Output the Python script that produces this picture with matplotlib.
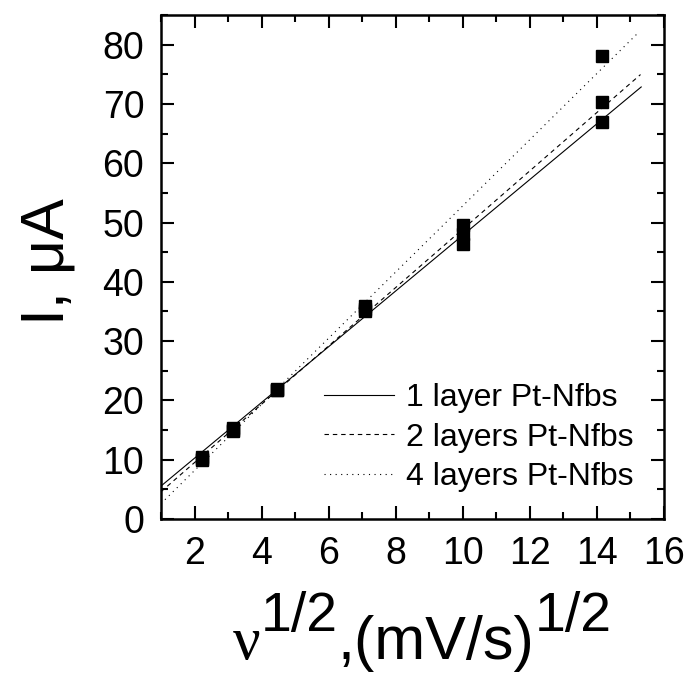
import matplotlib
matplotlib.use("Agg")
import numpy as np
import matplotlib.pyplot as plt
from matplotlib.ticker import MultipleLocator

# square root of scan rate, (mV/s)^1/2
sqrt_rate = [2.236, 3.162, 4.472, 7.071, 10.0, 14.142]

# peak currents, uA
current_1layer = [10.4, 15.0, 21.8, 35.0, 46.3, 67.0]
current_2layers = [10.2, 14.8, 21.7, 35.4, 48.0, 70.4]
current_4layers = [10.0, 15.3, 22.0, 35.9, 49.6, 78.1]

# linear fits I = slope * x + intercept, as drawn in the figure
fit_labels = ['1 layer Pt-Nfbs', '2 layers Pt-Nfbs', '4 layers Pt-Nfbs']
fit_slopes = [4.70, 4.92, 5.58]
fit_intercepts = [0.86, -0.32, -2.98]
fit_x_start = [1.0, 1.0, 1.0]
fit_x_end = [15.32, 15.30, 15.25]

x_ticks = [2, 4, 6, 8, 10, 12, 14, 16]
y_ticks = [0, 10, 20, 30, 40, 50, 60, 70, 80]

plt.rcParams['font.family'] = ['Liberation Sans', 'DejaVu Sans']

W, H = 691, 673
fig = plt.figure(figsize=(W / 100, H / 100), dpi=100)
ax = fig.add_axes([161 / W, 1 - 519 / H, (664 - 161) / W, (519 - 15) / H])

line_styles = [
    dict(linestyle='-'),
    dict(linestyle=(0, (4, 3.5))),
    dict(linestyle=(0, (1, 4))),
]
for label, a, b, x0, x1, st in zip(fit_labels, fit_slopes, fit_intercepts,
                                    fit_x_start, fit_x_end, line_styles):
    xs = np.array([x0, x1])
    ax.plot(xs, a * xs + b, color='black', lw=0.8, label=label, **st)

for ys in (current_1layer, current_2layers, current_4layers):
    ax.plot(sqrt_rate, ys, 's', color='black', ms=9, zorder=3)

ax.set_xlim(1, 16)
ax.set_ylim(0, 85)
ax.set_xticks(x_ticks)
ax.set_yticks(y_ticks)
ax.xaxis.set_minor_locator(MultipleLocator(1))
ax.yaxis.set_minor_locator(MultipleLocator(5))
ax.tick_params(which='both', direction='in', top=True, right=True, width=1.5,
               labelsize=27, pad=12)
ax.tick_params(which='major', length=9.5)
ax.tick_params(which='minor', length=4.7)
for s in ax.spines.values():
    s.set_linewidth(1.8)

ax.legend(loc='upper left', bbox_to_anchor=(0.324, 0.27), frameon=False,
          fontsize=23, handlelength=2.2, handletextpad=0.37, labelspacing=0.3,
          borderpad=0, borderaxespad=0)

# y label
fig.text(48 / W, 1 - 262 / H, 'I, μA', rotation=90, ha='center', va='center',
         fontsize=44)

# x label, built from pieces so the superscripts keep a large size
base = fig.text(233 / W, 1 / H, 'ν', fontsize=44, va='bottom', ha='left',
                family=['Liberation Serif'])
prev = base
for text, size, dy in [('1/2', 40, 21), (',(mV/s)', 44, 0), ('1/2', 40, 21)]:
    prev = ax.annotate(text, xy=(1, 0), xycoords=(prev, base), xytext=(0, dy),
                       textcoords='offset points', fontsize=size, va='bottom',
                       ha='left', annotation_clip=False)

fig.savefig('out.png', dpi=100)
